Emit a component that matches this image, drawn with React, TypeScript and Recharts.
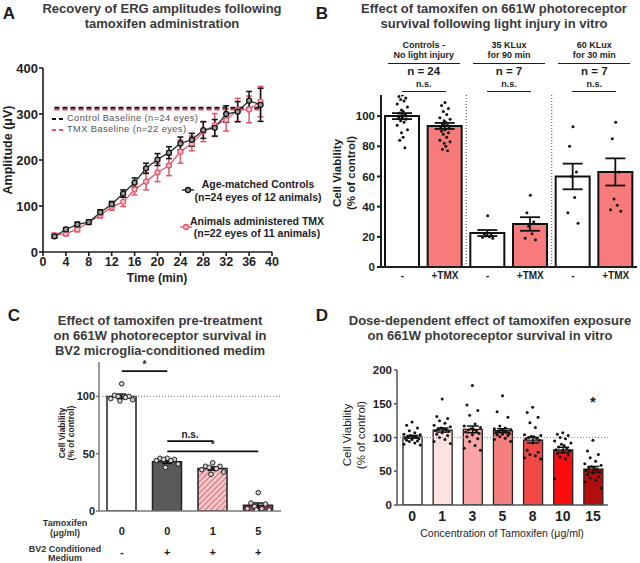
import React from 'react';
import {
  ComposedChart, Line, Bar, Scatter, XAxis, YAxis, ErrorBar,
  ReferenceLine, ReferenceDot, Cell,
} from 'recharts';

const FONT = '"Liberation Sans", Arial, Helvetica, sans-serif';
const INK = '#1e1e1e';
const TITLE = '#3a3a3a';

// ---- A: recovery of ERG amplitudes
const times = [2, 4, 6, 8, 10, 12, 14, 16, 18, 20, 22, 24, 26, 28, 30, 32, 34, 36, 38];
const ctrlAmp = [34, 49, 60, 65, 86, 104, 127, 151, 182, 201, 216, 236, 244, 265, 270, 300, 305, 329, 320];
const ctrlSem = [4, 4, 5, 5, 6, 6, 8, 10, 11, 13, 13, 14, 14, 18, 18, 18, 22, 20, 36];
const tmxAmp = [36, 40, 49, 65, 80, 98, 109, 136, 153, 173, 188, 218, 236, 262, 276, 287, 309, 310, 327];
const tmxSem = [5, 5, 5, 5, 6, 7, 10, 12, 18, 20, 22, 25, 16, 22, 25, 24, 25, 29, 33];
const ctrlBaseline = 313;
const tmxBaseline = 310;
const aTimeTicks = [0, 4, 8, 12, 16, 20, 24, 28, 32, 36, 40];
const aAmpTicks = [0, 100, 200, 300, 400];

// ---- B: light injury
const bGroupTop = ['Controls -', '35 KLux', '60 KLux'];
const bGroupBottom = ['No light injury', 'for 90 min', 'for 30 min'];
const bGroupN = [24, 7, 7];
const bCategories = ['-', '+TMX', '-', '+TMX', '-', '+TMX'];
const bMeans = [100, 93.5, 22.5, 28.5, 60, 63];
const bSem = [2, 2, 2, 4.5, 8.5, 9];
const bPoints = [
  [114, 113, 112, 111, 110, 108, 106, 104, 103, 102, 101, 100, 100, 99, 99, 98, 97, 96, 94, 91, 89, 86, 84, 79],
  [109, 107, 105, 103, 101, 99, 98, 97, 96, 95, 94, 93, 92, 91, 90, 89, 88, 86, 84, 83, 82, 80, 78, 77],
  [34, 22, 21, 20.5, 20, 19.5, 19],
  [47.5, 36, 30, 27, 22, 19, 18],
  [93, 80, 63, 60, 46, 36, 29],
  [96, 85, 63, 45, 41, 38, 37],
];
const bTicks = [0, 20, 40, 60, 80, 100];

// ---- C: BV2 conditioned medium
const cTamoxifen = ['0', '0', '1', '5'];
const cConditioned = ['-', '+', '+', '+'];
const cMeans = [100, 43, 37, 5];
const cSem = [2, 1.5, 1.5, 2];
const cPoints = [
  [111, 101, 100, 100, 99, 98, 97, 96],
  [46, 46, 45, 45, 44, 44, 41, 38],
  [42, 39, 39, 38, 37, 36, 34, 32],
  [16, 7, 6, 4, 2, 2, 1, 1],
];
const cComparisons = [
  { from: 0, to: 1, label: '*', level: 122 },
  { from: 1, to: 2, label: 'n.s.', level: 61 },
  { from: 1, to: 3, label: '*', level: 52 },
];

// ---- D: dose response
const dConc = ['0', '1', '3', '5', '8', '10', '15'];
const dMeans = [101, 111, 112, 110, 96, 81.5, 53];
const dSem = [2, 3, 5, 3, 4, 4, 4];
const dColors = ['#ffffff', '#fde2e2', '#f9a5a5', '#f47f7f', '#f24848', '#fb0d0d', '#b30d0d'];
const dPoints = [
  [123, 118, 114, 110, 107, 105, 104, 103, 102, 101, 100, 99, 98, 97, 96, 95, 94, 92, 90, 89],
  [157, 131, 128, 125, 121, 118, 116, 114, 113, 112, 111, 110, 109, 107, 105, 103, 100, 97, 94, 91],
  [177, 148, 140, 133, 120, 117, 115, 113, 112, 111, 110, 108, 106, 104, 101, 98, 94, 88, 84, 81],
  [162, 138, 130, 117, 114, 113, 112, 111, 110, 109, 108, 107, 106, 105, 104, 103, 101, 99, 97, 94],
  [145, 137, 130, 122, 115, 104, 103, 102, 101, 100, 99, 98, 96, 92, 81, 78, 75, 73, 70, 68],
  [107, 105, 103, 100, 98, 95, 92, 90, 88, 86, 84, 82, 80, 78, 76, 74, 71, 68, 39],
  [96, 80, 75, 70, 65, 61, 59, 57, 56, 55, 53, 51, 49, 47, 45, 42, 40, 37, 34, 25],
];
const dStarLevel = 153;

// horizontal spread of the dots inside a bar (layout only)
const SWARM = [0, -1, 1, -0.5, 0.5, -1.5, 1.5, -0.25, 0.25, -0.75, 0.75, -1.25, 1.25];
const swarm = (pts: number[][], spread: number) =>
  pts.flatMap((vals, i) => vals.map((v, j) => ({ x: i + 0.5 + SWARM[j % SWARM.length] * spread, y: v })));

type TxtProps = {
  x: number; y: number; children: React.ReactNode; size?: number; bold?: boolean;
  color?: string; anchor?: 'start' | 'middle'; rotate?: boolean; spacing?: number;
};
const Txt = ({ x, y, children, size = 10, bold = true, color = INK, anchor = 'middle', rotate = false, spacing = 0 }: TxtProps) => (
  <div
    style={{
      position: 'absolute', left: x, top: y, whiteSpace: 'nowrap', lineHeight: 1,
      fontSize: size, fontWeight: bold ? 700 : 400, color, fontFamily: FONT, letterSpacing: spacing,
      transform: `translate(${anchor === 'middle' ? '-50%' : '0'}, -50%)${rotate ? ' rotate(-90deg)' : ''}`,
    }}
  >
    {children}
  </div>
);

const HLine = ({ x1, x2, y, color = INK, w = 1.5 }: { x1: number; x2: number; y: number; color?: string; w?: number }) => (
  <div style={{ position: 'absolute', left: x1, top: y, width: x2 - x1, borderTop: `${w}px solid ${color}` }} />
);

const dot = (r: number, fill: string, stroke?: string) => (p: any) => (
  <circle cx={p.cx} cy={p.cy} r={r} fill={fill} stroke={stroke ?? 'none'} strokeWidth={0.9} />
);

function PanelA() {
  const data = times.map((t, i) => ({ t, ctrl: ctrlAmp[i], ctrlErr: ctrlSem[i], tmx: tmxAmp[i], tmxErr: tmxSem[i] }));
  const first = times[0];
  const last = times[times.length - 1];
  const axis = { stroke: INK, strokeWidth: 1.6 };
  return (
    <>
      <div style={{ position: 'absolute', left: 0, top: 0 }}>
        <ComposedChart width={320} height={290} data={data} margin={{ top: 68, right: 48, bottom: 14, left: 13 }}>
          <XAxis dataKey="t" type="number" domain={[0, 40]} ticks={aTimeTicks} height={24}
            tick={{ fill: INK, fontSize: 12.5, fontWeight: 700 }} tickSize={4} tickMargin={1}
            axisLine={axis} tickLine={axis} />
          <YAxis type="number" domain={[0, 400]} ticks={aAmpTicks} width={30}
            tick={{ fill: INK, fontSize: 13, fontWeight: 700 }} tickSize={4} tickMargin={1}
            axisLine={axis} tickLine={axis} />
          <ReferenceLine segment={[{ x: first, y: ctrlBaseline }, { x: last, y: ctrlBaseline }]}
            stroke="#111" strokeWidth={2.5} strokeDasharray="5 3" />
          <ReferenceLine segment={[{ x: first, y: tmxBaseline }, { x: last, y: tmxBaseline }]}
            stroke="#d9495c" strokeWidth={2} strokeDasharray="5 3" />
          <Line dataKey="tmx" stroke="#e2566a" strokeWidth={1.3} isAnimationActive={false}
            dot={{ r: 2.5, stroke: '#e2566a', fill: '#f7c6cc', strokeWidth: 1.3 }}>
            <ErrorBar dataKey="tmxErr" width={3} stroke="#e2566a" strokeWidth={1.5} direction="y" />
          </Line>
          <Line dataKey="ctrl" stroke="#1b2b20" strokeWidth={1.3} isAnimationActive={false}
            dot={{ r: 2.5, stroke: '#111', fill: '#9a9a9a', strokeWidth: 1.3 }}>
            <ErrorBar dataKey="ctrlErr" width={3} stroke="#111" strokeWidth={1.5} direction="y" />
          </Line>
        </ComposedChart>
      </div>
      <Txt x={9} y={13} size={17}>A</Txt>
      <Txt x={162} y={8} size={13} color={TITLE}>Recovery of ERG amplitudes following</Txt>
      <Txt x={162} y={23} size={13} color={TITLE}>tamoxifen administration</Txt>
      <Txt x={8} y={150} size={12.5} rotate>Amplitude (μV)</Txt>
      <Txt x={157} y={278} size={12}>Time (min)</Txt>
      {/* baseline legend */}
      <HLine x1={52} x2={56} y={118} color="#111" w={2} />
      <HLine x1={59} x2={63} y={118} color="#111" w={2} />
      <Txt x={67} y={118.5} size={9.3} bold={false} color="#555" anchor="start" spacing={0.4}>Control Baseline (n=24 eyes)</Txt>
      <HLine x1={52} x2={56} y={129} color="#e2566a" w={2} />
      <HLine x1={59} x2={63} y={129} color="#e2566a" w={2} />
      <Txt x={67} y={129.5} size={9.3} bold={false} color="#555" anchor="start" spacing={0.4}>TMX Baseline (n=22 eyes)</Txt>
      {/* group legend */}
      <svg style={{ position: 'absolute', left: 180, top: 182 }} width={16} height={52}>
        <line x1={2} y1={8} x2={14} y2={8} stroke="#111" strokeWidth={1.3} />
        <circle cx={8} cy={8} r={2.5} fill="#9a9a9a" stroke="#111" strokeWidth={1.3} />
        <line x1={0} y1={45} x2={12} y2={45} stroke="#e2566a" strokeWidth={1.3} />
        <circle cx={6} cy={45} r={2.5} fill="#f7c6cc" stroke="#e2566a" strokeWidth={1.3} />
      </svg>
      <Txt x={258} y={184} size={10.5}>Age-matched Controls</Txt>
      <Txt x={258} y={197} size={10.5}>(n=24 eyes of 12 animals)</Txt>
      <Txt x={257} y={221} size={10.5}>Animals administered TMX</Txt>
      <Txt x={257} y={233} size={10.5}>(n=22 eyes of 11 animals)</Txt>
    </>
  );
}

const B_LEFT = 381;
const B_RIGHT = 637;
function PanelB() {
  const data = bCategories.map((c, i) => ({ id: String(i), mean: bMeans[i], sem: bSem[i] }));
  const pts = swarm(bPoints, 0.08);
  const band = (B_RIGHT - B_LEFT) / bCategories.length;
  const axis = { stroke: INK, strokeWidth: 2 };
  return (
    <>
      <div style={{ position: 'absolute', left: 320, top: 0 }}>
        <ComposedChart width={320} height={300} data={data}
          margin={{ top: 95, right: 640 - B_RIGHT, bottom: 9, left: B_LEFT - 320 - 30 }}>
          <XAxis dataKey="id" height={24} tickLine={false} tickSize={0} tickMargin={5}
            tickFormatter={(v: string) => bCategories[Number(v)]}
            tick={{ fill: INK, fontSize: 10, fontWeight: 700 }} axisLine={axis} />
          <XAxis xAxisId="num" type="number" dataKey="x" domain={[0, bCategories.length]} hide allowDataOverflow />
          <YAxis type="number" domain={[0, 114]} ticks={bTicks} width={30} allowDataOverflow
            tick={{ fill: INK, fontSize: 11.5, fontWeight: 700 }} tickSize={4} tickMargin={2}
            axisLine={axis} tickLine={axis} />
          <ReferenceLine xAxisId="num" x={2} stroke="#666" strokeWidth={1.2} strokeDasharray="1 2" />
          <ReferenceLine xAxisId="num" x={4} stroke="#666" strokeWidth={1.2} strokeDasharray="1 2" />
          <Bar dataKey="mean" barSize={34} stroke="#111" strokeWidth={2} isAnimationActive={false}>
            {data.map((d, i) => <Cell key={d.id} fill={i % 2 ? '#f77b7b' : '#ffffff'} />)}
            <ErrorBar dataKey="sem" width={10} stroke="#111" strokeWidth={1.8} direction="y" />
          </Bar>
          <Scatter xAxisId="num" data={pts} dataKey="y" isAnimationActive={false} shape={dot(1.5, '#111')} />
        </ComposedChart>
      </div>
      <Txt x={322} y={13} size={17}>B</Txt>
      <Txt x={494} y={8} size={13} color={TITLE}>Effect of tamoxifen on 661W photoreceptor</Txt>
      <Txt x={494} y={23} size={13} color={TITLE}>survival following light injury in vitro</Txt>
      <Txt x={338} y={173} size={11.5} rotate>Cell Viability</Txt>
      <Txt x={352} y={173} size={11.5} rotate>(% of control)</Txt>
      {bGroupTop.map((t, g) => {
        const cx = B_LEFT + band * (2 * g + 1);
        return (
          <React.Fragment key={t}>
            <Txt x={cx} y={45} size={9}>{t}</Txt>
            <Txt x={cx} y={55} size={9}>{bGroupBottom[g]}</Txt>
            <HLine x1={cx - 36} x2={cx + 36} y={63} />
            <Txt x={cx} y={71.5} size={11.5}>{`n = ${bGroupN[g]}`}</Txt>
            <Txt x={cx} y={84} size={9}>n.s.</Txt>
            <HLine x1={cx - 22} x2={cx + 22} y={91} />
          </React.Fragment>
        );
      })}
    </>
  );
}

function PanelC() {
  const data = cMeans.map((m, i) => ({ id: String(i), mean: m, sem: cSem[i] }));
  const pts = swarm(cPoints, 0.16);
  const axis = { stroke: '#777', strokeWidth: 1.5 };
  const fills = ['#ffffff', '#5a5a5a', 'url(#hatchPink)', 'url(#hatchMaroon)'];
  const CTick = (p: any) => (
    <g>
      <text x={p.x} y={p.y + 24} textAnchor="middle" fontSize={11} fontWeight={700} fill={INK}>{cTamoxifen[p.index]}</text>
      <text x={p.x} y={p.y + 45} textAnchor="middle" fontSize={11} fontWeight={700} fill={INK}>{cConditioned[p.index]}</text>
    </g>
  );
  return (
    <>
      <div style={{ position: 'absolute', left: 0, top: 290 }}>
        <ComposedChart width={320} height={273} data={data} margin={{ top: 72, right: 39, bottom: 0, left: 69 }}>
          <defs>
            <pattern id="hatchPink" patternUnits="userSpaceOnUse" width="4" height="4" patternTransform="rotate(45)">
              <rect width="4" height="4" fill="#f4c6c8" />
              <line x1="0" y1="0" x2="0" y2="4" stroke="#c65a68" strokeWidth="1.6" />
            </pattern>
            <pattern id="hatchMaroon" patternUnits="userSpaceOnUse" width="4" height="4" patternTransform="rotate(45)">
              <rect width="4" height="4" fill="#93344a" />
              <line x1="0" y1="0" x2="0" y2="4" stroke="#c98a96" strokeWidth="1" />
            </pattern>
          </defs>
          <XAxis dataKey="id" height={52} tickLine={false} tickSize={0} tickMargin={0} tick={<CTick />} axisLine={axis} />
          <XAxis xAxisId="num" type="number" dataKey="x" domain={[0, cMeans.length]} hide allowDataOverflow />
          <YAxis type="number" domain={[0, 130]} ticks={[0, 50, 100]} width={30} allowDataOverflow
            tick={{ fill: INK, fontSize: 11, fontWeight: 700 }} tickSize={3} tickMargin={1}
            axisLine={axis} tickLine={axis} />
          <ReferenceLine y={100} stroke="#888" strokeWidth={1.2} strokeDasharray="1 2" />
          <Bar dataKey="mean" barSize={29} stroke="#222" strokeWidth={1.5} isAnimationActive={false}>
            {data.map((d, i) => <Cell key={d.id} fill={fills[i]} />)}
            <ErrorBar dataKey="sem" width={5} stroke="#111" strokeWidth={1.5} direction="y" />
          </Bar>
          <Scatter xAxisId="num" data={pts} dataKey="y" isAnimationActive={false} shape={dot(2.3, '#d0d0d0', '#111')} />
          {cComparisons.map((c) => (
            <ReferenceLine key={`${c.from}-${c.to}`} xAxisId="num"
              segment={[{ x: c.from + 0.5, y: c.level }, { x: c.to + 0.5, y: c.level }]}
              stroke="#111" strokeWidth={1.6} />
          ))}
          {cComparisons.map((c) => (
            <ReferenceDot key={`l${c.from}-${c.to}`} xAxisId="num" x={(c.from + c.to) / 2 + 0.5} y={c.level + 6}
              r={0} fill="none" stroke="none"
              label={{ value: c.label, position: 'center', fill: INK, fontSize: 10, fontWeight: 700 }} />
          ))}
        </ComposedChart>
      </div>
      <Txt x={14} y={315} size={17}>C</Txt>
      <Txt x={160} y={320} size={13} color={TITLE}>Effect of tamoxifen pre-treatment</Txt>
      <Txt x={160} y={335} size={13} color={TITLE}>on 661W photoreceptor survival in</Txt>
      <Txt x={160} y={350} size={13} color={TITLE}>BV2 microglia-conditioned medim</Txt>
      <Txt x={62} y={433} size={8.5} rotate>Cell Viability</Txt>
      <Txt x={71} y={433} size={8.5} rotate>(% of control)</Txt>
      <Txt x={65} y={523} size={9} color="#333">Tamoxifen</Txt>
      <Txt x={65} y={533} size={9} color="#333">(μg/ml)</Txt>
      <Txt x={65} y={549} size={9} color="#333">BV2 Conditioned</Txt>
      <Txt x={65} y={558} size={9} color="#333">Medium</Txt>
    </>
  );
}

function PanelD() {
  const data = dConc.map((c, i) => ({ conc: c, mean: dMeans[i], sem: dSem[i] }));
  const pts = swarm(dPoints, 0.18);
  const axis = { stroke: '#555', strokeWidth: 1.5 };
  return (
    <>
      <div style={{ position: 'absolute', left: 320, top: 290 }}>
        <ComposedChart width={320} height={273} data={data} margin={{ top: 80, right: 32, bottom: 28, left: 47 }}>
          <XAxis dataKey="conc" height={30} tickLine={false} tickSize={0} tickMargin={6}
            tick={{ fill: INK, fontSize: 14, fontWeight: 700 }} axisLine={axis} />
          <XAxis xAxisId="num" type="number" dataKey="x" domain={[0, dConc.length]} hide allowDataOverflow />
          <YAxis type="number" domain={[0, 200]} ticks={[0, 50, 100, 150, 200]} width={30} allowDataOverflow
            tick={{ fill: INK, fontSize: 11.5, fontWeight: 700 }} tickSize={3} tickMargin={2}
            axisLine={axis} tickLine={axis} />
          <ReferenceLine y={100} stroke="#888" strokeWidth={1.2} strokeDasharray="1 2" />
          <Bar dataKey="mean" barSize={19} stroke="#222" strokeWidth={1.3} isAnimationActive={false}>
            {data.map((d, i) => <Cell key={d.conc} fill={dColors[i]} />)}
            <ErrorBar dataKey="sem" width={6} stroke="#111" strokeWidth={1.5} direction="y" />
          </Bar>
          <Scatter xAxisId="num" data={pts} dataKey="y" isAnimationActive={false} shape={dot(1.5, '#111')} />
          <ReferenceDot xAxisId="num" x={dConc.length - 0.5} y={dStarLevel} r={0} fill="none" stroke="none"
            label={{ value: '*', position: 'center', fill: INK, fontSize: 15, fontWeight: 700 }} />
        </ComposedChart>
      </div>
      <Txt x={322} y={315} size={17}>D</Txt>
      <Txt x={490} y={320} size={13} color={TITLE}>Dose-dependent effect of tamoxifen exposure</Txt>
      <Txt x={490} y={335} size={13} color={TITLE}>on 661W photoreceptor survival in vitro</Txt>
      <Txt x={348} y={435} size={11.5} bold={false} rotate>Cell Viability</Txt>
      <Txt x={362} y={435} size={11.5} bold={false} rotate>(% of control)</Txt>
      <Txt x={502} y={533} size={10.5} bold={false}>Concentration of Tamoxifen (μg/ml)</Txt>
    </>
  );
}

export default function App() {
  return (
    <div style={{ position: 'absolute', left: 0, top: 0, width: 640, height: 563, background: '#fff', fontFamily: FONT, overflow: 'hidden' }}>
      <PanelA />
      <PanelB />
      <PanelC />
      <PanelD />
    </div>
  );
}
